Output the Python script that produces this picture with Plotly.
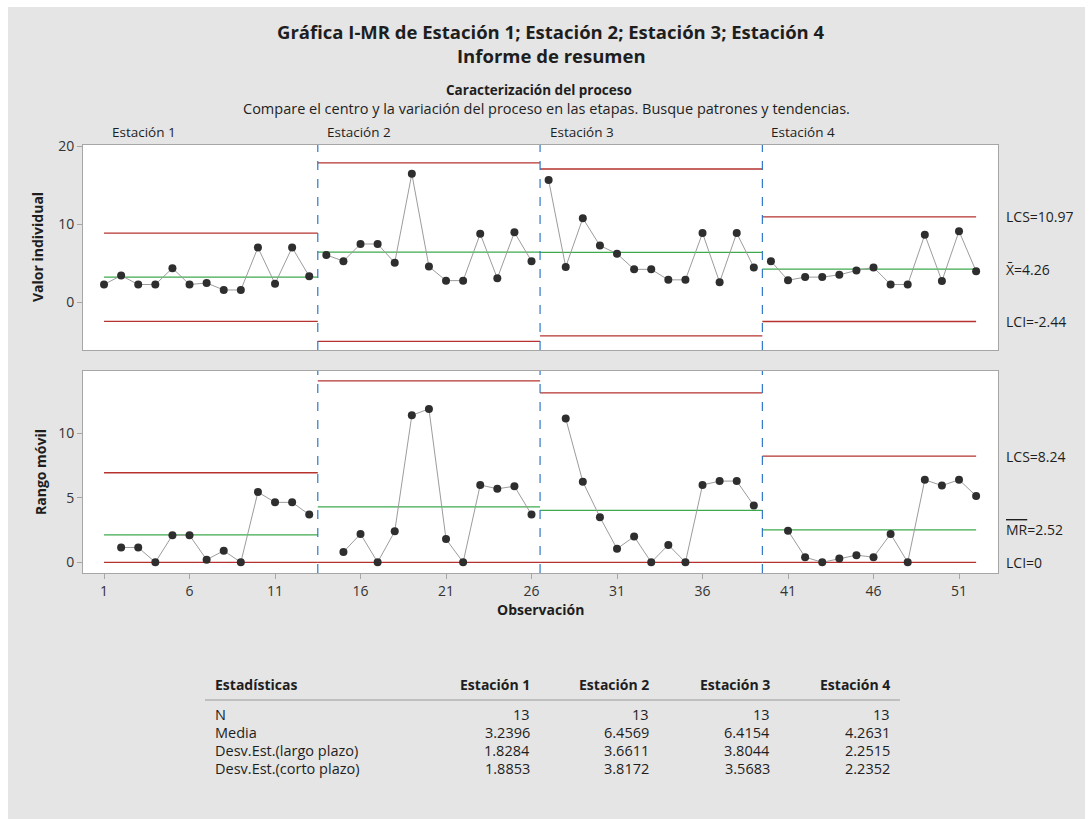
import plotly.graph_objects as go

# ---------------- data ----------------
stages = ["Estación 1", "Estación 2", "Estación 3", "Estación 4"]
ind_s1 = [2.3, 3.45, 2.3, 2.3, 4.4, 2.3, 2.5, 1.6, 1.6, 7.05, 2.4, 7.05, 3.35]
ind_s2 = [6.1, 5.3, 7.5, 7.5, 5.1, 16.5, 4.6, 2.8, 2.8, 8.8, 3.1, 9.0, 5.3]
ind_s3 = [15.7, 4.55, 10.8, 7.3, 6.25, 4.25, 4.25, 2.9, 2.9, 8.9, 2.6, 8.9, 4.5]
ind_s4 = [5.3, 2.85, 3.25, 3.25, 3.55, 4.1, 4.5, 2.3, 2.3, 8.7, 2.75, 9.15, 4.0]
individual = [ind_s1, ind_s2, ind_s3, ind_s4]

n_obs = [13, 13, 13, 13]
media = [3.2396, 6.4569, 6.4154, 4.2631]
desv_largo = [1.8284, 3.6611, 3.8044, 2.2515]
desv_corto = [1.8853, 3.8172, 3.5683, 2.2352]

stat_rows = ["N", "Media", "Desv.Est.(largo plazo)", "Desv.Est.(corto plazo)"]
x_ticks = [1, 6, 11, 16, 21, 26, 31, 36, 41, 46, 51]
y1_ticks = [0, 10, 20]
y2_ticks = [0, 5, 10]

D2 = 1.128
D4 = 3.267

# ---------------- style ----------------
W, H = 1091, 819
FONT = "Open Sans, Noto Sans, sans-serif"
RED = "#b5322e"
GREEN = "#3eaa4c"
BLUE = "#2f78c8"
PT = "#2e2e2e"
LN = "#9c9c9c"
TXT = "#1e1e1e"
BG = "#e5e5e5"


def px(x):
    return x / W


def py(y):
    return 1 - y / H


fig = go.Figure()

start = 1
bounds = []
for i, vals in enumerate(individual):
    n = len(vals)
    xs = list(range(start, start + n))
    left = 1 if i == 0 else start - 0.5
    right = start + n - 1 if i == len(individual) - 1 else start + n - 0.5
    bounds.append((left, right))
    m = media[i]
    s = desv_corto[i]
    ucl, lcl = m + 3 * s, m - 3 * s
    mrbar = D2 * s
    mrucl = D4 * mrbar
    for v, c in [(ucl, RED), (lcl, RED), (m, GREEN)]:
        fig.add_trace(go.Scatter(x=[left, right], y=[v, v], mode="lines",
                                 line=dict(color=c, width=1.3),
                                 xaxis="x", yaxis="y", hoverinfo="skip"))
    for v, c in [(mrucl, RED), (0, RED), (mrbar, GREEN)]:
        fig.add_trace(go.Scatter(x=[left, right], y=[v, v], mode="lines",
                                 line=dict(color=c, width=1.3),
                                 xaxis="x2", yaxis="y2", hoverinfo="skip"))
    mr = [abs(vals[k] - vals[k - 1]) for k in range(1, n)]
    fig.add_trace(go.Scatter(x=xs, y=vals, mode="lines+markers",
                             line=dict(color=LN, width=1),
                             marker=dict(color=PT, size=8),
                             xaxis="x", yaxis="y"))
    fig.add_trace(go.Scatter(x=xs[1:], y=mr, mode="lines+markers",
                             line=dict(color=LN, width=1),
                             marker=dict(color=PT, size=8),
                             xaxis="x2", yaxis="y2"))
    start += n

shapes = []
for (l, r) in bounds[:-1]:
    for xr, yr in [("x", "y domain"), ("x2", "y2 domain")]:
        shapes.append(dict(type="line", xref=xr, yref=yr, x0=r, x1=r, y0=0, y1=1,
                           line=dict(color=BLUE, width=1.2, dash="dash")))

# white outer border strips
for x0, x1, y0, y1 in [(0, px(8), 0, 1), (px(1085), 1, 0, 1), (0, 1, py(7), 1)]:
    shapes.append(dict(type="rect", xref="paper", yref="paper", x0=x0, x1=x1, y0=y0, y1=y1,
                       fillcolor="white", line=dict(width=0)))
# table header rule
shapes.append(dict(type="line", xref="paper", yref="paper", x0=px(205), x1=px(900),
                   y0=py(700), y1=py(700), line=dict(color="#9a9a9a", width=1)))

ann = []


def add_text(text, x, y, size, bold=False, xanchor="center", angle=0, color=TXT):
    ann.append(dict(text=("<b>%s</b>" % text) if bold else text, x=px(x), y=py(y),
                    xref="paper", yref="paper", xanchor=xanchor, yanchor="middle",
                    showarrow=False, textangle=angle,
                    font=dict(family=FONT, size=size, color=color)))


add_text("Gráfica I-MR de " + "; ".join(stages), 551, 32, 18.5, bold=True)
add_text("Informe de resumen", 551, 56, 18.5, bold=True)
add_text("Caracterización del proceso", 539, 90, 13.5, bold=True)
add_text("Compare el centro y la variación del proceso en las etapas. Busque patrones y tendencias.",
         546, 108.5, 14.5)
for name, xpos in zip(stages, [110, 325, 548, 769]):
    add_text(name, xpos, 132, 13.5, xanchor="left")
add_text("Valor individual", 37, 247, 14, bold=True, angle=-90)
add_text("Rango móvil", 41, 472, 14, bold=True, angle=-90)
add_text("Observación", 540, 609, 14, bold=True)

# right-side control limit labels (last stage)
m4, s4 = media[-1], desv_corto[-1]
mrbar4 = D2 * s4
right_labels = [
    ("y", m4 + 3 * s4, "LCS=%.2f" % (m4 + 3 * s4)),
    ("y", m4, "X̄=%.2f" % m4),
    ("y", m4 - 3 * s4, "LCI=%.2f" % (m4 - 3 * s4)),
    ("y2", D4 * mrbar4, "LCS=%.2f" % (D4 * mrbar4)),
    ("y2", mrbar4, "<span style='text-decoration:overline'>MR</span>=%.2f" % mrbar4),
    ("y2", 0, "LCI=0"),
]
for yref, v, t in right_labels:
    ann.append(dict(text=t, x=px(1004), y=v, xref="paper", yref=yref,
                    xanchor="left", yanchor="middle", showarrow=False,
                    font=dict(family=FONT, size=14, color=TXT)))

# statistics table
col_right = [532, 651, 772, 892]
add_text("Estadísticas", 213, 684, 14, bold=True, xanchor="left")
for name, xr in zip(stages, col_right):
    add_text(name, xr, 684, 14, bold=True, xanchor="right")
row_y = [714, 732, 750, 768]
table_vals = [
    [str(v) for v in n_obs],
    ["%.4f" % v for v in media],
    ["%.4f" % v for v in desv_largo],
    ["%.4f" % v for v in desv_corto],
]
for label, yv, vals in zip(stat_rows, row_y, table_vals):
    add_text(label, 213, yv, 14.5, xanchor="left")
    for v, xr in zip(vals, col_right):
        add_text(v, xr, yv, 14.5, xanchor="right")

xdom = [px(83), px(998)]
xrange_ = [-0.23, 53.28]
axis_common = dict(showgrid=False, zeroline=False, showline=True, mirror=True,
                   linecolor="#a6a6a6", linewidth=1, ticks="outside", ticklen=5,
                   tickcolor="#a6a6a6", automargin=False,
                   tickfont=dict(family=FONT, size=14, color="#333333"))

fig.update_layout(
    width=W, height=H,
    margin=dict(l=0, r=0, t=0, b=0, pad=0),
    paper_bgcolor=BG, plot_bgcolor="white",
    showlegend=False,
    xaxis=dict(domain=xdom, range=xrange_, anchor="y", showticklabels=False,
               showgrid=False, zeroline=False, showline=True, mirror=True,
               linecolor="#a6a6a6", ticks="", automargin=False),
    yaxis=dict(domain=[py(350), py(145)], range=[-6.1, 20.2], anchor="x",
               tickvals=y1_ticks, **axis_common),
    xaxis2=dict(domain=xdom, range=xrange_, anchor="y2", tickvals=x_ticks, **axis_common),
    yaxis2=dict(domain=[py(573), py(371)], range=[-0.83, 14.84], anchor="x2",
                tickvals=y2_ticks, **axis_common),
    shapes=shapes,
    annotations=ann,
)

fig.write_html("out.html", config={"displayModeBar": False},
               post_script="document.body.style.margin='0';document.body.style.overflow='hidden';")
